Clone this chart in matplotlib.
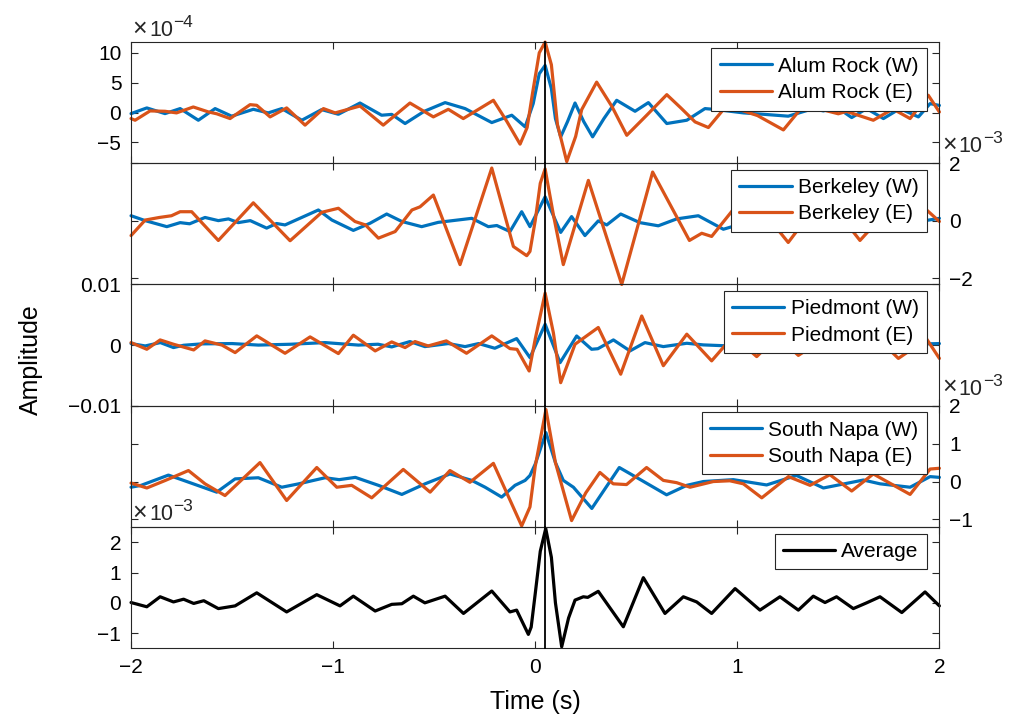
import numpy as np
import matplotlib
matplotlib.use('Agg')
import matplotlib.pyplot as plt
from matplotlib.ticker import FuncFormatter

# Waveforms (time in s, amplitude in the units of each panel's multiplier)
alum_w_t = [-2.0, -1.922, -1.832, -1.757, -1.667, -1.584, -1.502, -1.395, -1.321, -1.254, -1.155, -1.057,
            -0.974, -0.867, -0.76, -0.71, -0.644, -0.55, -0.446, -0.347, -0.215, -0.116, -0.05, -0.01, 0.02,
            0.049, 0.08, 0.1, 0.126, 0.16, 0.197, 0.24, 0.284, 0.34, 0.403, 0.494, 0.56, 0.651, 0.75, 0.84,
            0.898, 1.03, 1.128, 1.252, 1.376, 1.426, 1.49, 1.566, 1.64, 1.723, 1.805, 1.896, 1.954, 2.0]
alum_w_v = [-0.17, 0.78, -0.17, 0.67, -1.28, 0.67, -0.6, 0.55, -0.05, 0.67, -1.28, 0.5,
            -0.28, 1.6, -0.44, -0.3, -1.83, 0.2, 1.67, 0.67, -1.67, -0.44, -2.39, 1.5, 6.5,
            7.9, 4.0, -1.0, -4.06, -1.5, 1.6, -1.5, -4.06, -1.0, 2.06, 0.22, 1.67, -1.83, -1.28, 0.67,
            0.5, -0.05, -0.28, -0.6, 0.67, 0.28, 0.95, -0.83, 0.67, -1.0, 0.67, -0.72, 1.5, 1.2]

alum_e_t = [-2.0, -1.98, -1.906, -1.832, -1.775, -1.692, -1.617, -1.576, -1.51, -1.411, -1.378, -1.312,
            -1.23, -1.139, -1.048, -0.99, -0.867, -0.752, -0.62, -0.504, -0.43, -0.356, -0.207, -0.14,
            -0.075, -0.04, -0.013, 0.02, 0.049, 0.08, 0.11, 0.156, 0.2, 0.23, 0.304, 0.38, 0.453, 0.55,
            0.651, 0.72, 0.791, 0.857, 0.948, 1.1, 1.228, 1.33, 1.43, 1.5, 1.54, 1.673, 1.77, 1.855, 1.945, 2.0]
alum_e_v = [-1.0, -1.28, 0.28, 0.22, -0.05, 0.94, 0.11, -0.2, -1.0, 1.33, 1.22, -0.72,
            0.78, -2.1, 0.67, -0.05, 1.1, -2.1, 1.6, -0.72, 0.55, -1.0, 2.06, -1.5,
            -5.28, -2.5, 3.3, 10.0, 11.8, 8.0, -2.0, -8.2, -4.0, 0.5, 5.1, 1.0, -3.8, -0.5,
            3.0, 0.8, -1.56, -2.5, 1.2, -0.5, -2.9, 1.3, 0.4, -0.2, 0.2, -1.28, 0.6, -1.0, 2.9, 0.1]

berk_w_t = [-2.0, -1.93, -1.823, -1.757, -1.71, -1.634, -1.568, -1.518, -1.47, -1.41, -1.329, -1.28,
            -1.238, -1.073, -1.006, -0.9, -0.817, -0.735, -0.66, -0.562, -0.48, -0.314, -0.232, -0.19,
            -0.125, -0.067, -0.026, 0.049, 0.126, 0.18, 0.246, 0.312, 0.354, 0.423, 0.518, 0.609, 0.7,
            0.807, 0.931, 1.1, 1.25, 1.442, 1.6, 1.838, 1.93, 2.0]
berk_w_v = [0.17, 0.0, -0.21, -0.07, -0.11, 0.11, 0.0, 0.06, -0.07, 0.0, -0.26, -0.1,
            -0.15, 0.37, 0.02, -0.34, -0.09, 0.23, -0.03, -0.21, -0.06, 0.08, -0.21, -0.17,
            -0.38, 0.31, -0.21, 0.83, -0.41, 0.14, -0.52, -0.01, -0.15, 0.23, -0.07, -0.18, 0.06,
            0.17, -0.3, 0.05, -0.15, -0.26, 0.0, -0.34, 0.0, 0.08]

berk_e_t = [-2.0, -1.93, -1.86, -1.8, -1.757, -1.7, -1.568, -1.395, -1.213, -1.056, -0.974, -0.892,
            -0.84, -0.776, -0.693, -0.61, -0.57, -0.504, -0.372, -0.215, -0.108, -0.042, -0.026, 0.0,
            0.025, 0.049, 0.09, 0.139, 0.263, 0.428, 0.581, 0.763, 0.824, 0.873, 1.05, 1.252, 1.43,
            1.607, 1.8, 1.937, 2.0]
berk_e_v = [-0.52, 0.02, 0.11, 0.17, 0.31, 0.31, -0.69, 0.62, -0.7, 0.29, 0.43, -0.03,
            -0.15, -0.61, -0.38, 0.37, 0.48, 0.89, -1.53, 1.83, -0.9, -1.22, -1.07, 0.0,
            1.3, 1.8, 0.2, -1.53, 1.4, -2.22, 1.69, -0.69, -0.44, -0.55, 1.0, -0.76, 0.9,
            -0.69, 0.8, 0.37, -0.03]

pied_w_t = [-2.0, -1.93, -1.855, -1.79, -1.74, -1.65, -1.5, -1.37, -1.21, -1.04, -0.875, -0.778,
            -0.71, -0.62, -0.546, -0.43, -0.347, -0.28, -0.2, -0.092, -0.026, 0.049, 0.123, 0.205,
            0.279, 0.31, 0.387, 0.469, 0.543, 0.634, 0.75, 0.832, 0.93, 1.2, 1.5, 1.8, 2.0]
pied_w_v = [0.25, -0.14, 0.41, -0.41, -0.03, 0.2, 0.25, 0.0, 0.14, 0.41, 0.0, 0.14,
            -0.3, 0.58, -0.25, 0.25, -0.25, 0.25, -0.52, 1.07, -2.07, 3.44, -2.9, 1.5,
            -0.69, -0.6, 0.85, -0.96, 0.41, -0.25, 0.3, 0.03, -0.1, 0.1, 0.0, 0.1, 0.25]

pied_e_t = [-2.0, -1.922, -1.856, -1.79, -1.69, -1.634, -1.55, -1.485, -1.378, -1.238, -1.114, -0.974,
            -0.9, -0.792, -0.71, -0.644, -0.595, -0.53, -0.44, -0.34, -0.215, -0.125, -0.09, -0.03,
            0.0, 0.049, 0.09, 0.126, 0.197, 0.312, 0.423, 0.527, 0.634, 0.75, 0.873, 0.98, 1.096,
            1.2, 1.302, 1.44, 1.582, 1.69, 1.797, 1.937, 2.0]
pied_e_v = [0.41, -0.69, 0.85, 0.14, -0.8, 0.69, 0.0, -1.24, 1.52, -1.35, 1.35, -1.4,
            1.63, -0.96, 0.52, -0.41, 0.58, -0.14, 0.69, -1.35, 1.52, -0.58, -0.7, -4.27,
            1.0, 8.57, 2.0, -6.2, 0.14, 2.9, -4.8, 4.8, -3.4, 1.8, -2.6, 1.5, -1.9,
            1.5, -1.7, 1.3, -0.96, 1.3, -2.2, 1.0, -2.2]

napa_w_t = [-2.0, -1.95, -1.815, -1.74, -1.576, -1.485, -1.37, -1.254, -1.17, -1.04, -0.97, -0.89,
            -0.776, -0.66, -0.545, -0.422, -0.314, -0.248, -0.166, -0.1, -0.05, -0.026, 0.0, 0.053,
            0.1, 0.139, 0.189, 0.28, 0.416, 0.527, 0.65, 0.75, 0.832, 0.98, 1.145, 1.293, 1.426,
            1.624, 1.706, 1.855, 1.954, 2.0]
napa_w_v = [-0.15, -0.1, 0.17, 0.03, -0.28, 0.07, 0.1, -0.15, -0.06, 0.1, 0.05, 0.11,
            -0.1, -0.34, -0.06, 0.2, 0.03, -0.15, -0.41, -0.1, 0.03, 0.16, 0.46, 1.29,
            0.5, 0.03, -0.15, -0.71, 0.37, 0.03, -0.35, -0.1, 0.0, 0.05, -0.09, 0.16, -0.17,
            0.04, -0.06, -0.15, 0.13, 0.11]

napa_e_t = [-2.0, -1.922, -1.83, -1.716, -1.634, -1.535, -1.362, -1.23, -1.081, -0.982, -0.908, -0.809,
            -0.653, -0.52, -0.422, -0.323, -0.207, -0.067, -0.026, 0.0, 0.053, 0.1, 0.18, 0.25,
            0.32, 0.386, 0.452, 0.551, 0.634, 0.7, 0.766, 0.881, 0.963, 1.03, 1.121, 1.253, 1.36,
            1.458, 1.566, 1.673, 1.855, 1.954, 2.0]
napa_e_v = [-0.04, -0.17, 0.03, 0.29, -0.06, -0.37, 0.5, -0.5, 0.37, -0.15, -0.1, -0.43,
            0.32, -0.28, 0.29, -0.02, 0.48, -1.17, -0.67, 0.4, 1.9, 0.5, -1.03, -0.3,
            0.24, -0.06, -0.08, 0.37, 0.03, -0.03, -0.15, 0.0, 0.02, -0.06, -0.43, 0.13, -0.1,
            0.18, -0.25, 0.2, -0.34, 0.33, 0.35]

avg_t = [-2.0, -1.922, -1.856, -1.79, -1.74, -1.69, -1.64, -1.568, -1.485, -1.378, -1.23, -1.081,
         -0.966, -0.9, -0.792, -0.71, -0.66, -0.603, -0.546, -0.446, -0.355, -0.215, -0.125, -0.092,
         -0.034, -0.02, 0.0, 0.025, 0.052, 0.08, 0.1, 0.131, 0.165, 0.197, 0.238, 0.26, 0.312, 0.436,
         0.535, 0.642, 0.733, 0.799, 0.873, 0.989, 1.112, 1.211, 1.302, 1.376, 1.434, 1.491, 1.574,
         1.64, 1.706, 1.814, 1.929, 2.0]
avg_v = [0.01, -0.13, 0.2, 0.03, 0.12, -0.02, 0.07, -0.19, -0.1, 0.33, -0.3, 0.27,
         -0.1, 0.22, -0.27, -0.05, -0.03, 0.22, 0.0, 0.22, -0.35, 0.39, -0.3, -0.24,
         -1.04, -0.8, 0.3, 1.7, 2.45, 1.5, 0.0, -1.45, -0.5, 0.09, 0.2, 0.18, 0.38, -0.79,
         0.83, -0.35, 0.2, 0.03, -0.35, 0.47, -0.24, 0.2, -0.24, 0.22, 0.01, 0.2, -0.19,
         0.0, 0.2, -0.32, 0.36, -0.1]

event_time = 0.05

blue = '#0072BD'
orange = '#D95319'
grey = '#262626'

plt.rcParams['font.family'] = ['Liberation Sans', 'DejaVu Sans']
plt.rcParams['font.size'] = 15

fig = plt.figure(figsize=(10.27, 7.19), dpi=100)

left, width = 0.1276, 0.7871
bot0, h = 0.0983, 0.1687

# (traces, exponent, ylim, yticks, label side, exponent gap)
panels = [
    ([(alum_w_t, alum_w_v, blue, 'Alum Rock (W)'), (alum_e_t, alum_e_v, orange, 'Alum Rock (E)')],
     -4, (-8.46, 11.84), [-5, 0, 5, 10], 'left', 0.047),
    ([(berk_w_t, berk_w_v, blue, 'Berkeley (W)'), (berk_e_t, berk_e_v, orange, 'Berkeley (E)')],
     -3, (-2.22, 2.0), [-2, 0, 2], 'right', 0.088),
    ([(pied_w_t, pied_w_v, blue, 'Piedmont (W)'), (pied_e_t, pied_e_v, orange, 'Piedmont (E)')],
     None, (-10, 10), [-10, 0, 10], 'left', 0),
    ([(napa_w_t, napa_w_v, blue, 'South Napa (W)'), (napa_e_t, napa_e_v, orange, 'South Napa (E)')],
     -3, (-1.2, 2.0), [-1, 0, 1, 2], 'right', 0.09),
    ([(avg_t, avg_v, 'black', 'Average')],
     -3, (-1.5, 2.5), [-1, 0, 1, 2], 'left', 0.055),
]


def put_exponent(ax, xpos, ypos, expo, dx):
    # MATLAB-style "x10^n" written in three pieces
    kw = dict(xy=(xpos, ypos), xycoords='axes fraction', textcoords='offset points',
              ha='left', va='baseline', color=grey)
    ax.annotate('\u00d7', xytext=(dx, 0.5), fontsize=18, **kw)
    ax.annotate('10', xytext=(dx + 12, 0), fontsize=15.5, **kw)
    ax.annotate('\u2212%d' % abs(expo), xytext=(dx + 29.5, 6.7), fontsize=12.5, **kw)


axes = []
for i, (traces, expo, ylim, yt, side, gap) in enumerate(panels):
    ax = fig.add_axes([left, bot0 + (4 - i) * h, width, h])
    ax.set_facecolor('none')
    scale = 1e-3 if expo is None else 10.0 ** expo
    for t, v, c, lab in traces:
        ax.plot(t, np.array(v) * scale, color=c, lw=2.3, label=lab, clip_on=False,
                solid_joinstyle='round', solid_capstyle='round')
    ax.axvline(event_time, color='black', lw=1.3, zorder=5, clip_on=False)
    ax.set_xlim(-2, 2)
    ax.set_ylim(ylim[0] * scale, ylim[1] * scale)
    if expo is None:
        ax.set_yticks([-0.01, 0, 0.01])
        ax.yaxis.set_major_formatter(FuncFormatter(lambda y, p: '0' if abs(y) < 1e-12 else f'{y:g}'.replace('-', '\u2212')))
    else:
        ax.set_yticks([y * scale for y in yt])
        ax.yaxis.set_major_formatter(FuncFormatter(lambda y, p, s=scale: f'{round(y / s):d}'.replace('-', '\u2212')))
        if side == 'left':
            put_exponent(ax, 0.0, 1 + gap, expo, 1)
        else:
            put_exponent(ax, 1.0, 1 + gap, expo, 2)
    ax.set_xticks([-2, -1, 0, 1, 2])
    ax.tick_params(axis='both', direction='in', length=5, width=0.8, color=grey,
                   labelcolor='black', labelsize=15, pad=7)
    ax.tick_params(axis='x', top=True, bottom=True, labelbottom=(i == 4))
    ax.tick_params(axis='y', left=True, right=True,
                   labelleft=(side == 'left'), labelright=(side == 'right'))
    for s in ax.spines.values():
        s.set_linewidth(0.8)
        s.set_color(grey)
    leg = ax.legend(loc='upper right', bbox_to_anchor=(1 - 12.5 / 808, 1 - 6.5 / 121.3),
                    borderaxespad=0, fontsize=15, handlelength=2.5, handletextpad=0.3,
                    labelspacing=0.36, borderpad=0.4, fancybox=False, framealpha=1)
    leg.get_frame().set_edgecolor(grey)
    leg.get_frame().set_linewidth(0.8)
    leg.set_zorder(10)
    axes.append(ax)

axes[4].set_xlabel('Time (s)', fontsize=18, labelpad=9)
fig.text(0.03, 0.5, 'Amplitude', rotation=90, fontsize=18, ha='center', va='center')

fig.savefig('out.png', dpi=100, facecolor='white')
